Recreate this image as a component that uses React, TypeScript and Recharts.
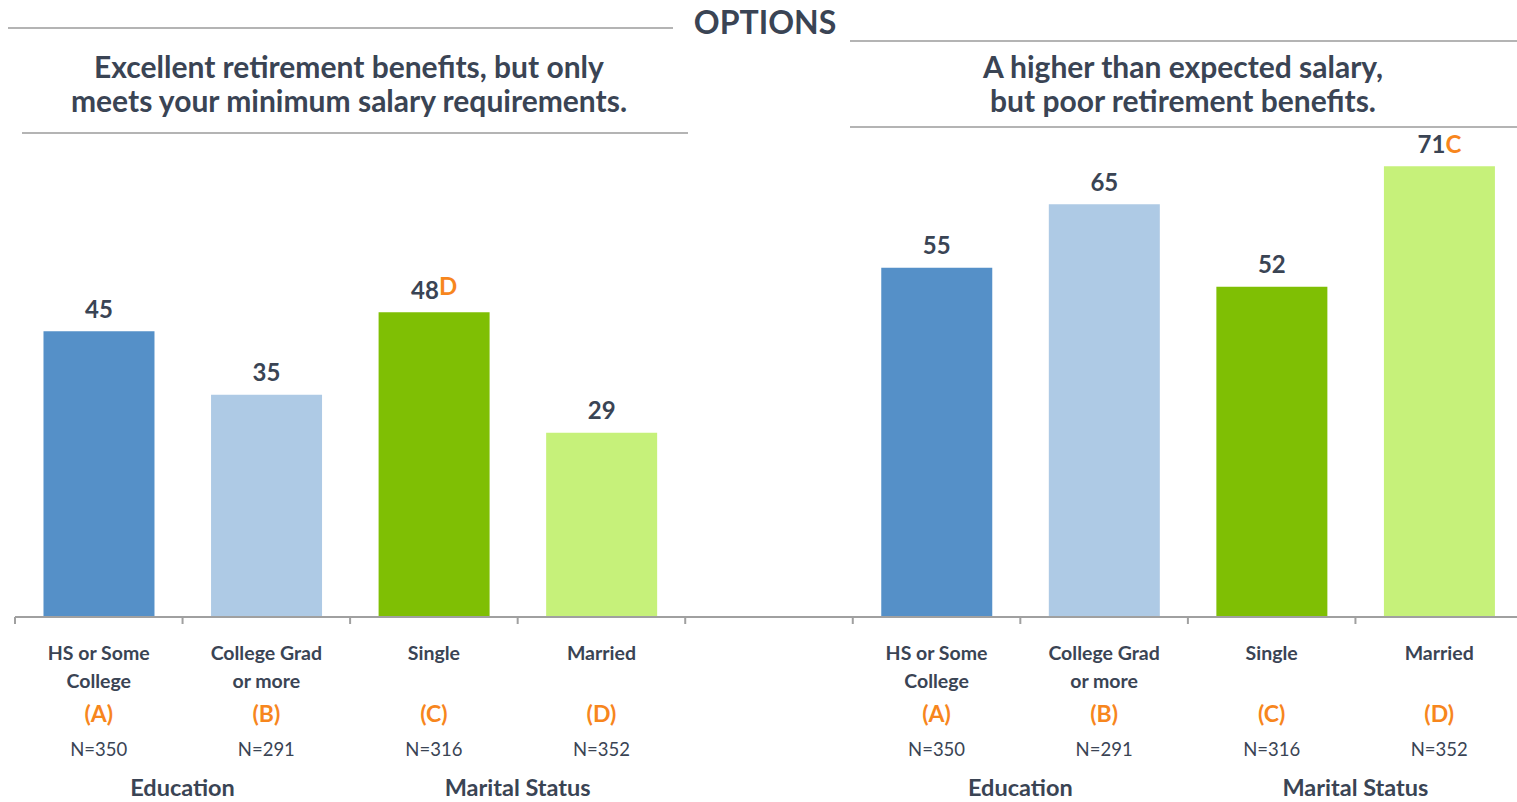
import { BarChart, Bar, XAxis, YAxis, Cell, LabelList } from "recharts";

const categoryLines = [["HS or Some", "College"], ["College Grad", "or more"], ["Single"], ["Married"]];
const groupLetters = ["(A)", "(B)", "(C)", "(D)"];
const sampleSizes = ["N=350", "N=291", "N=316", "N=352"];
const leftValues = [45, 35, 48, 29];
const rightValues = [55, 65, 52, 71];
const leftSig = ["", "", "D", ""];
const rightSig = ["", "", "", "C"];
const groupNames = ["Education", "Marital Status"];

const barColors = ["#5590c8", "#aecae5", "#7fbf04", "#c6f17a"];
const TEXT = "#3a4454";
const ORANGE = "#f7861d";
const FONT = "Lato, 'Open Sans', sans-serif";

const W = 1517;
const H = 802;
const M = { top: 109, right: -6, bottom: 0, left: 15 };
const X_H = 185;
const AXIS_Y = H - X_H;
const HALF = (W - M.left - M.right) / 9 / 2;

const data = [
  ...leftValues.map((v, i) => ({ key: `L${i}`, slot: i, value: v, sig: leftSig[i], side: 0 })),
  { key: "gap", slot: -1, value: null, sig: "", side: -1 },
  ...rightValues.map((v, i) => ({ key: `R${i}`, slot: i, value: v, sig: rightSig[i], side: 1 })),
];

const Tick = (props: any) => {
  const { x, payload } = props;
  const d = data[payload.index];
  const lx = x - HALF;
  return (
    <g fontFamily={FONT}>
      <line x1={lx} x2={lx} y1={AXIS_Y} y2={AXIS_Y + 7} stroke="#a0a0a0" strokeWidth={2} />
      {d.slot >= 0 && (
        <>
          {categoryLines[d.slot].map((t, j) => (
            <text key={j} x={x} y={652 + j * 28} textAnchor="middle" dominantBaseline="central"
              fontSize={19.5} fontWeight={700} fill={TEXT}>{t}</text>
          ))}
          <text x={x} y={713} textAnchor="middle" dominantBaseline="central" fontSize={23} fontWeight={700} fill={ORANGE}>
            {groupLetters[d.slot]}
          </text>
          <text x={x} y={749} textAnchor="middle" dominantBaseline="central" fontSize={18.5} fill={TEXT}>
            {sampleSizes[d.slot]}
          </text>
          {(d.slot === 0 || d.slot === 2) && (
            <text x={x + HALF} y={787} textAnchor="middle" dominantBaseline="central" fontSize={23.5} fontWeight={700} fill={TEXT}>
              {groupNames[d.slot / 2]}
            </text>
          )}
        </>
      )}
    </g>
  );
};

const ValueLabel = (props: any) => {
  const { x, y, width, value } = props;
  const d = data.find((e) => e.key === value);
  if (!d || d.value == null) return null;
  return (
    <text x={x + width / 2} y={y - 23} textAnchor="middle" dominantBaseline="central"
      fontFamily={FONT} fontSize={24} fontWeight={700} fill={TEXT}>
      {d.value}
      {d.sig && <tspan fill={ORANGE} dy={d.side === 0 ? -4 : 0}>{d.sig}</tspan>}
    </text>
  );
};

const line = (left: number, top: number, width: number) => (
  <div style={{ position: "absolute", left, top, width, height: 2, background: "#b4b4b4" }} />
);

const header = (text: string[], cx: number) => (
  <div style={{ position: "absolute", left: cx - 360, top: 49, width: 720, textAlign: "center",
    fontFamily: FONT, fontWeight: 700, fontSize: 30, lineHeight: "34px", color: TEXT }}>
    {text.map((t, i) => <div key={i}>{t}</div>)}
  </div>
);

export default function App() {
  return (
    <div style={{ position: "relative", width: W, height: H, background: "#fff", overflow: "hidden" }}>
      <style>{`body{margin:0}`}</style>
      <BarChart width={W} height={H} data={data} margin={M} barCategoryGap="17%">
        <YAxis hide domain={[0, 80]} />
        <XAxis dataKey="key" interval={0} tickLine={false} axisLine={{ stroke: "#a0a0a0", strokeWidth: 2 }}
          tick={<Tick />} height={X_H} />
        <Bar dataKey="value" isAnimationActive={false}>
          {data.map((d, i) => (
            <Cell key={i} fill={d.slot >= 0 ? barColors[d.slot] : "none"} />
          ))}
          <LabelList dataKey="key" content={<ValueLabel />} />
        </Bar>
      </BarChart>
      {line(8, 27, 665)}
      {line(850, 40, 667)}
      {line(22, 132, 666)}
      {line(850, 126, 667)}
      <div style={{ position: "absolute", left: 665, top: 2, width: 200, textAlign: "center", fontFamily: FONT,
        fontWeight: 700, fontSize: 32, lineHeight: "40px", color: TEXT }}>OPTIONS</div>
      {header(["Excellent retirement benefits, but only", "meets your minimum salary requirements."], 349)}
      {header(["A higher than expected salary,", "but poor retirement benefits."], 1183)}
    </div>
  );
}
